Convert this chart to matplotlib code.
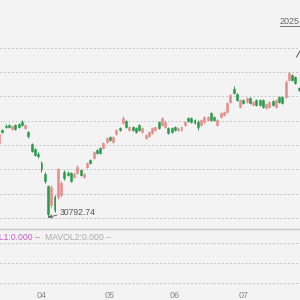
import numpy as np
import matplotlib
matplotlib.use('Agg')
import matplotlib.pyplot as plt
from matplotlib.lines import Line2D

# daily candles, oldest first
opens = [36450, 37438, 37742, 37818, 37514, 37818, 37894, 38046, 37590, 37286,
         36374, 35994, 35614, 34930, 34094, 33182, 31738, 32346, 32346, 32498,
         34246, 34170, 34170, 33866, 34170, 34398, 33866, 34626, 35158, 35310,
         35918, 36070, 36070, 36526, 36906, 36526, 37134, 37590, 37970, 38122,
         37438, 37666, 37590, 37818, 37286, 36830, 36982, 37210, 37438, 38046,
         37818, 37666, 37590, 37590, 37666, 37438, 37438, 37818, 38350, 38350,
         38198, 38046, 37818, 38046, 38198, 38730, 38426, 37818, 38426, 38578,
         38806, 39566, 40554, 40174, 39186, 39718, 39566, 39870, 39338, 39718,
         39718, 39718, 39110, 39186, 39642, 39186, 39946, 39946, 39946, 41238,
         41618, 41466, 40630]
highs = [37286, 37514, 37894, 37894, 37818, 37894, 37970, 38198, 37894, 37362,
         36450, 36070, 35766, 35082, 34246, 33258, 33258, 32498, 34550, 33562,
         34398, 34322, 34246, 34246, 34778, 34474, 34170, 35006, 35234, 35842,
         35994, 36146, 36526, 36906, 36982, 36982, 37514, 37666, 38502, 38198,
         37742, 37742, 37666, 37894, 37666, 37134, 37362, 37666, 37742, 38122,
         38426, 38198, 37666, 37666, 37742, 37666, 37742, 38122, 38426, 38426,
         38274, 38198, 38274, 38502, 38502, 38806, 38502, 38274, 38806, 38882,
         39566, 40174, 40782, 40250, 39794, 39794, 39946, 39946, 39642, 39794,
         39794, 39794, 39490, 39642, 39718, 39794, 40022, 40022, 41238, 41846,
         41694, 41542, 40706]
lows = [36298, 37210, 37590, 37590, 37438, 37438, 37590, 37742, 37514, 36830,
        35766, 35462, 35310, 34246, 33410, 30792.74, 31510, 31206, 32194, 32346,
        33638, 33942, 33486, 33790, 34094, 33942, 33790, 34550, 34854, 35234,
        35614, 35614, 35994, 36450, 36602, 36450, 37058, 37362, 37894, 37590,
        37362, 37362, 37210, 37362, 37210, 36754, 36906, 37134, 37362, 37514,
        37742, 37590, 37134, 37210, 37362, 37362, 37362, 37742, 38046, 37970,
        37894, 37438, 37742, 37970, 38122, 38122, 38122, 37742, 38350, 38502,
        38730, 39490, 40174, 39642, 39110, 39414, 39490, 39414, 39262, 39262,
        39262, 39110, 39034, 39110, 39262, 39110, 39490, 39414, 39870, 41162,
        41162, 40934, 40402]
closes = [37134, 37286, 37666, 37666, 37742, 37514, 37666, 37818, 37818, 36982,
          35842, 35538, 35462, 34474, 33562, 31054, 33106, 31358, 34474, 33410,
          33790, 34018, 33562, 34094, 34626, 34018, 34094, 34930, 34930, 35766,
          35690, 35690, 36450, 36830, 36678, 36906, 37438, 37438, 38350, 37666,
          37666, 37438, 37286, 37438, 37590, 37058, 37286, 37590, 37666, 37590,
          38350, 38046, 37210, 37286, 37438, 37590, 37666, 38046, 38122, 38046,
          37970, 37666, 38198, 38426, 38426, 38198, 38198, 38198, 38730, 38806,
          39490, 40098, 40250, 39718, 39718, 39490, 39870, 39490, 39566, 39338,
          39338, 39186, 39414, 39566, 39338, 39718, 39566, 39490, 41086, 41770,
          41238, 41010, 40478]

month_pos = [13, 34, 54, 75]
month_labels = ['04', '05', '06', '07']
grid_levels = [30750, 32600, 34450, 36300, 38150, 40000, 41850, 43700]
low_value = 30792.74

up_color = '#e58c8c'
down_color = '#2b9a4a'
bg = '#f3f3f3'
grid_color = '#c6c6c6'

o = np.array(opens)
h = np.array(highs)
l = np.array(lows)
c = np.array(closes)
x = np.arange(len(o))
colors = np.where(c >= o, up_color, down_color)

fig = plt.figure(figsize=(3, 3), dpi=100, facecolor=bg)
plt.rcParams['font.family'] = ['Liberation Sans', 'DejaVu Sans']

# price panel
ax = fig.add_axes([0, 71 / 300, 1, 229 / 300], facecolor=bg)
ax.vlines(x, l, h, colors=colors, linewidth=0.7, zorder=2)
ax.bar(x, np.abs(c - o), bottom=np.minimum(o, c), width=0.6,
       color=colors, edgecolor=colors, linewidth=0.4, zorder=3)
ax.set_xlim(0.26, 92.4)
ax.set_ylim(29914, 47318)
ax.set_yticks(grid_levels)
ax.set_xticks([])
ax.tick_params(length=0, labelleft=False, labelbottom=False)
ax.grid(axis='y', color=grid_color, linestyle=(0, (2, 2)), linewidth=0.7)
ax.set_axisbelow(True)
for s in ax.spines.values():
    s.set_visible(False)

# lowest point label
low_idx = int(np.argmin(l))
ax.annotate(f'{low_value:.2f}', xy=(low_idx, low_value), xytext=(8.5, 3.5),
            textcoords='offset points', ha='left', va='center', fontsize=6.2,
            color='#555555',
            arrowprops=dict(arrowstyle='->', color='#555555', lw=0.6,
                            shrinkA=0, shrinkB=0, relpos=(0, 0.3)))

# bits of the header that are cut off on the right
fig.text(0.965, 0.928, '2025', ha='center', va='center', fontsize=6.5, color='#666666')
fig.add_artist(Line2D([280 / 300, 1], [274 / 300, 274 / 300], color='#777777', lw=0.7))
fig.add_artist(Line2D([296.5 / 300, 1], [243 / 300, 249 / 300], color='#555555', lw=0.7))

# volume panel (empty)
vol = fig.add_axes([0, 11 / 300, 1, 60 / 300], facecolor=bg, sharex=ax)
vol.set_ylim(-0.3, 2.7)
vol.set_yticks([0, 1, 2])
vol.grid(axis='y', color=grid_color, linestyle=(0, (2, 2)), linewidth=0.7)
vol.set_xticks(month_pos)
vol.set_xticklabels(month_labels)
vol.tick_params(length=0, labelleft=False, labelsize=6.5, labelcolor='#888888', pad=1.5)
for name, s in vol.spines.items():
    s.set_visible(name == 'top')
vol.spines['top'].set_color('#c8c8c8')
vol.spines['top'].set_linewidth(1.0)

fig.text(40 / 300, 0.21, 'MAVOL1:0.000 \u2013', ha='right', va='center',
         fontsize=6.2, color='#c35cc9')
fig.text(45 / 300, 0.21, 'MAVOL2:0.000 \u2013', ha='left', va='center',
         fontsize=6.2, color='#a8a8a8')

fig.savefig('out.png', dpi=100, facecolor=bg)
